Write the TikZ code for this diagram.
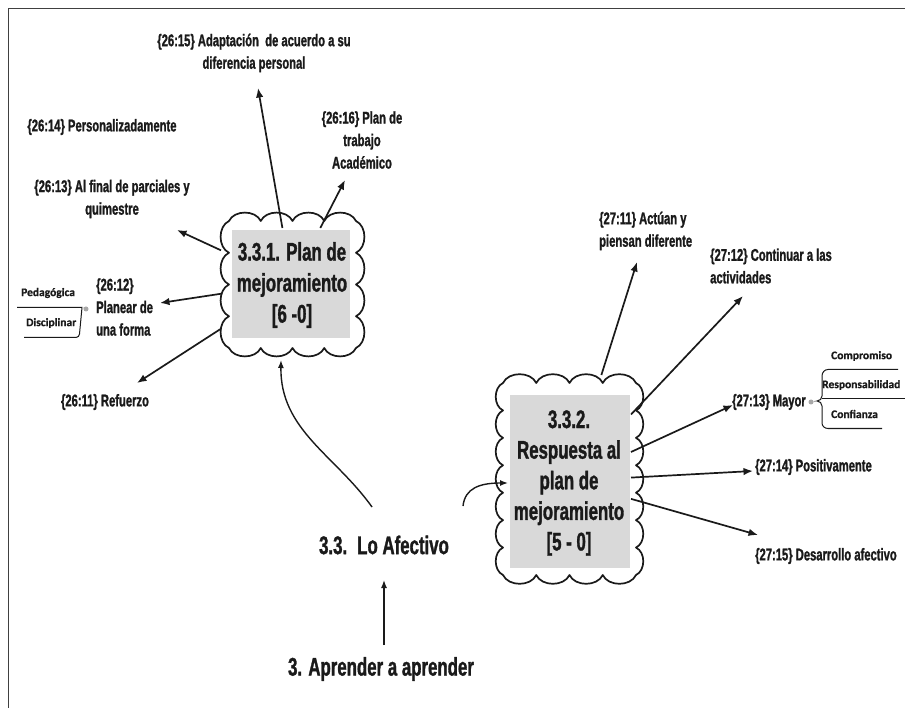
\documentclass[tikz,border=0pt]{standalone}
\usepackage{fontspec}
\setmainfont{Liberation Sans}[FakeStretch=0.66, BoldFeatures={FakeBold=1.2}]
\newfontfamily\subfont{Carlito}[BoldFeatures={FakeBold=0.8}]
\usetikzlibrary{arrows.meta}
\definecolor{boxgray}{HTML}{D9D9D9}
\definecolor{ink}{HTML}{1A1A1A}
\definecolor{dotgray}{HTML}{A8A8A8}

\tikzset{
  lbl/.style={inner sep=0pt, font=\bfseries\fontsize{17}{22.5}\selectfont, text=ink},
  big/.style={inner sep=0pt, font=\bfseries\fontsize{25.5}{31}\selectfont, text=ink},
  boxtxt/.style={fill=boxgray, inner sep=0pt, align=center, text=ink},
  sub/.style={inner sep=0pt, font=\subfont\bfseries\fontsize{11.5}{13}\selectfont, text=ink, anchor=west},
  hub/.style={draw=none, inner sep=0pt, outer sep=0pt, rectangle},
  arr/.style={line width=1.7pt, draw=ink, -{Latex[length=9.5pt,width=7.5pt]}},
  soft/.style={line width=1.4pt, draw=ink, -{Latex[length=8pt,width=6pt]}},
  cloudline/.style={line width=1.7pt, draw=ink, line join=round},
  bracket/.style={line width=1pt, draw=ink}
}

% scalloped outline round a rectangle: top-left, bottom-right, bumps across, bumps down
\newcommand\scallops[6]{%
  \pgfmathsetmacro\sdx{(#3-#1)/#5}%
  \pgfmathsetmacro\sdy{(#4-#2)/#6}%
  \draw[cloudline] (#1,#2)
    foreach \k in {1,...,#5}{ to[out=65,in=115] ++(\sdx,0) }
    foreach \k in {1,...,#6}{ to[out=-25,in=25] ++(0,\sdy) }
    foreach \k in {1,...,#5}{ to[out=-115,in=-65] ++(-\sdx,0) }
    foreach \k in {1,...,#6}{ to[out=155,in=-155] ++(0,-\sdy) }
    -- cycle;%
}

\begin{document}
\begin{tikzpicture}[x=1pt,y=-1pt]
\useasboundingbox (0,0) rectangle (905,708);
\fill[white] (0,0) rectangle (905,708);

% page frame
\draw[line width=1.6pt, black!75] (8.5,708) -- (8.5,8.5) -- (905,8.5);

% ---- cloud 3.3.1 ----
\scallops{229}{221}{356}{348}{4}{4}
\node[boxtxt, minimum width=118pt, minimum height=108pt] (g1) at (291,284) {};
\node[big, align=center] (t1) at (292,285) {3.3.1. Plan de\\mejoramiento\\{[}6 -0{]}};
\node[hub, minimum width=142pt, minimum height=110pt] (c1) at (292,283) {};

% ---- cloud 3.3.2 ----
\scallops{503}{383}{636}{575}{4}{7}
\node[boxtxt, minimum width=120pt, minimum height=173pt] (g2) at (570,481.5) {};
\node[big, align=center, font=\bfseries\fontsize{25.5}{30.6}\selectfont] (t2) at (569,483) {3.3.2.\\Respuesta al\\plan de\\mejoramiento\\{[}5 - 0{]}};
\node[hub, minimum width=126pt, minimum height=212pt] (c2) at (568,481) {};

% ---- centre and root ----
\node[big] (lo) at (384,545) {3.3.\hspace{0.15em} Lo Afectivo};
\node[big] (apr) at (381,669) {3. Aprender a aprender};

% ---- labels round 3.3.1 ----
\node[lbl, align=center] (l15) at (254,53) {\{26:15\} Adaptación\ \ de acuerdo a su\\diferencia personal};
\node[lbl, align=center] (l16) at (362,140) {\{26:16\} Plan de\\trabajo\\Académico};
\node[lbl] (l14) at (102,127) {\{26:14\} Personalizadamente};
\node[lbl, align=center] (l13) at (112,199) {\{26:13\} Al final de parciales y\\quimestre};
\node[lbl, align=left, anchor=west] (l12) at (96,307) {\{26:12\}\\Planear de\\una forma};
\node[lbl] (l11) at (105,402) {\{26:11\} Refuerzo};

% ---- labels round 3.3.2 ----
\node[lbl, align=left, anchor=west] (r11) at (599,231) {\{27:11\} Actúan y\\piensan diferente};
\node[lbl, align=left, anchor=west] (r12) at (710,266) {\{27:12\} Continuar a las\\actividades};
\node[lbl, anchor=west] (r13) at (732,402) {\{27:13\} Mayor};
\node[lbl, anchor=west] (r14) at (755,467) {\{27:14\} Positivamente};
\node[lbl, anchor=west] (r15) at (755,556) {\{27:15\} Desarrollo afectivo};

% ---- sub-items ----
\node[sub] (peda) at (21,293) {Pedagógica};
\node[sub] (disc) at (26,323) {Disciplinar};
\node[circle, fill=dotgray, inner sep=0pt, minimum size=5pt] (dotl) at (86,309) {};
\draw[bracket] (17,307.5) -- (82,307.5) -- (79.5,334) to[out=-95,in=0] (76,337.5) -- (24,337.5);
\draw[bracket, dotgray] (dotl) -- (82,307.5);

\node[sub] (comp) at (831,356) {Compromiso};
\node[sub] (resp) at (822,385) {Responsabilidad};
\node[sub] (conf) at (831,414) {Confianza};
\node[circle, fill=dotgray, inner sep=0pt, minimum size=5pt] (dotr) at (811,402) {};
\draw[bracket] (898,369.5) -- (828,369.5) to[out=180,in=90] (822,376) -- (822,396) to[out=-90,in=0] (817,401)
  to[out=0,in=90] (822,406) -- (822,423) to[out=-90,in=180] (828,428.5) -- (882,428.5);
\draw[bracket] (822,398.5) -- (905,398.5);
\draw[bracket, dotgray] (dotr) -- (817,401);

% ---- arrow ends ----
\coordinate (e15) at (258,88);
\coordinate (e16) at (345,180);
\coordinate (e13) at (177,230);
\coordinate (e12) at (160,303);
\coordinate (e11) at (137,383);
\coordinate (f11) at (637,262);
\coordinate (f12) at (743,296);
\coordinate (f13) at (733,405);
\coordinate (f14) at (753,471);
\coordinate (f15) at (758,535);
\coordinate (s1) at (372,507);
\coordinate (in1) at (281,360);
\coordinate (s2) at (463,506);
\coordinate (in2) at (508,483);
\coordinate (s3) at (384,645);
\coordinate (in3) at (384,580);

% ---- connectors ----
\foreach \e in {e15,e16,e13,e12,e11} \draw[arr] (c1) -- (\e);
\foreach \f in {f11,f12,f13,f14,f15} \draw[arr] (c2) -- (\f);
\draw[soft] (s1) .. controls (335,455) and (280,430) .. (in1);
\draw[soft] (s2) .. controls (465,488) and (480,483) .. (in2);
\draw[soft] (s3) -- (in3);
\end{tikzpicture}
\end{document}
